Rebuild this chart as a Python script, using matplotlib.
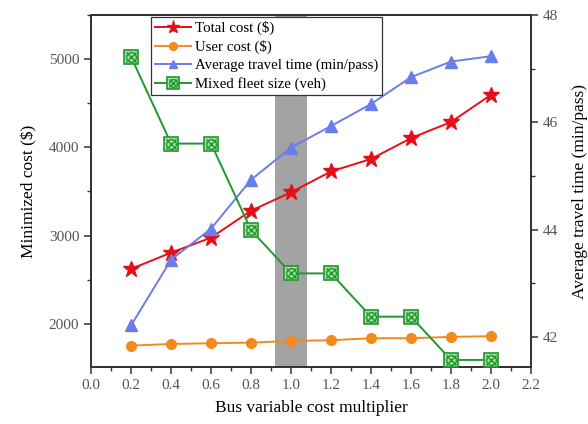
import numpy as np
import matplotlib
matplotlib.use("Agg")
import matplotlib.pyplot as plt
from matplotlib.legend_handler import HandlerTuple
from matplotlib.ticker import MultipleLocator

plt.rcParams['font.family'] = ['Liberation Serif', 'DejaVu Serif']

multiplier = [0.2, 0.4, 0.6, 0.8, 1.0, 1.2, 1.4, 1.6, 1.8, 2.0]
total_cost = [2623, 2807, 2977, 3283, 3490, 3727, 3867, 4104, 4286, 4595]
user_cost = [1754, 1773, 1781, 1788, 1807, 1815, 1838, 1838, 1853, 1861]
travel_time = [42.22, 43.44, 44.02, 44.93, 45.53, 45.93, 46.34, 46.84, 47.13, 47.23]
fleet_size = [11, 9, 9, 7, 6, 6, 5, 5, 4, 4]

red = '#e3101a'
orange = '#f28a1e'
blue = '#6b7de6'
green = '#22962f'

fig = plt.figure(figsize=(5.88, 4.24), dpi=100)
ax = fig.add_axes([0.155, 0.134, 0.748, 0.831])
ax2 = ax.twinx()
ax3 = ax.twinx()  # fleet size, own hidden scale

ax.set_xlim(0.0, 2.2)
ax.set_ylim(1510, 5500)
ax2.set_ylim(41.44, 48)
# fleet axis: 490 $-units per vehicle, offset so 4 veh sits at ~1592
ax3.set_ylim((1510 + 368) / 490, (5500 + 368) / 490)
ax3.axis('off')

# highlighted base case
ax.axvspan(0.92, 1.08, color='#a3a3a3', zorder=0, lw=0)

l_tot, = ax.plot(multiplier, total_cost, color=red, lw=1.4, marker='*',
                 ms=12, mfc=red, mec=red, zorder=3)
l_usr, = ax.plot(multiplier, user_cost, color=orange, lw=1.4, marker='o',
                 ms=7, mfc=orange, mec=orange, zorder=3)
l_tt, = ax2.plot(multiplier, travel_time, color=blue, lw=1.4, marker='^',
                 ms=8, mfc=blue, mec=blue, zorder=3)
l_fl, = ax3.plot(multiplier, fleet_size, color=green, lw=1.4, marker='s',
                 ms=10, mfc='#9fe39f', mec=green, mew=1.2, zorder=3)
l_fo, = ax3.plot(multiplier, fleet_size, ls='none', marker='o', ms=7,
                 mfc='none', mec=green, mew=1.0, zorder=4)
l_fx, = ax3.plot(multiplier, fleet_size, ls='none', marker='x', ms=7,
                 mec=green, mew=1.0, zorder=4)

ax.xaxis.set_major_locator(MultipleLocator(0.2))
ax.xaxis.set_minor_locator(MultipleLocator(0.1))
ax.yaxis.set_major_locator(MultipleLocator(1000))
ax.yaxis.set_minor_locator(MultipleLocator(500))
ax2.yaxis.set_major_locator(MultipleLocator(2))
ax2.yaxis.set_minor_locator(MultipleLocator(1))
ax.xaxis.set_major_formatter(plt.FormatStrFormatter('%.1f'))

for a in (ax, ax2):
    for s in a.spines.values():
        s.set_linewidth(1.3)
        s.set_color('#333333')
ax.tick_params(which='major', length=5, width=1.1, labelsize=11, colors='#333333',
               labelcolor='#555555')
ax.tick_params(which='minor', length=3, width=1.0, colors='#333333')
ax2.tick_params(which='major', length=5, width=1.1, labelsize=11, colors='#333333',
                labelcolor='#555555')
ax2.tick_params(which='minor', length=3, width=1.0, colors='#333333')

ax.set_xlabel('Bus variable cost multiplier', fontsize=12.5, labelpad=6)
ax.set_ylabel('Minimized cost ($)', fontsize=12.5, labelpad=8)
ax2.set_ylabel('Average travel time (min/pass)', fontsize=12.5, labelpad=10)

leg = ax3.legend([l_tot, l_usr, l_tt, (l_fl, l_fo, l_fx)],
                 ['Total cost ($)', 'User cost ($)', 'Average travel time (min/pass)',
                  'Mixed fleet size (veh)'],
                 handler_map={tuple: HandlerTuple(ndivide=1, pad=0)},
                 loc='upper left', bbox_to_anchor=(0.137, 0.993), borderaxespad=0,
                 fontsize=10.7, fancybox=False, framealpha=1, edgecolor='#333333',
                 handlelength=2.4, handletextpad=0.3, labelspacing=0.32,
                 borderpad=0.25, markerscale=0.8)
leg.get_frame().set_linewidth(0.9)
leg.set_zorder(10)

fig.savefig('out.png', dpi=100)
